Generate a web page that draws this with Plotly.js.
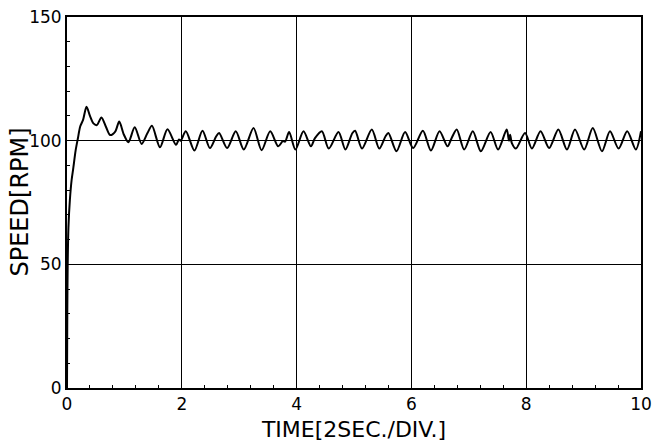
<!DOCTYPE html>
<html>
<head>
<meta charset="utf-8">
<script src="https://cdn.plot.ly/plotly-3.0.1.min.js"></script>
<style>html,body{margin:0;padding:0;background:#fff;}#chart{width:653px;height:447px;}</style>
</head>
<body>
<div id="chart"></div>
<script>
// time [2 sec/div units]
const timeVals = [0, 0.005, 0.012, 0.025, 0.05, 0.08, 0.11, 0.15, 0.19, 0.23,
  0.28, 0.34, 0.40, 0.46, 0.52, 0.60, 0.68, 0.75, 0.84, 0.91,
  0.99, 1.07, 1.18, 1.30, 1.40, 1.48, 1.62, 1.75, 1.90, 1.95,
  1.98, 2.07, 2.22, 2.36, 2.49, 2.60, 2.65, 2.79, 2.94, 3.08,
  3.25, 3.39, 3.54, 3.68, 3.76, 3.80, 3.87, 3.98, 4.12, 4.25,
  4.32, 4.44, 4.56, 4.73, 4.85, 4.97, 5.02, 5.14, 5.31, 5.44,
  5.55, 5.60, 5.74, 5.89, 6.03, 6.20, 6.34, 6.49, 6.63, 6.70,
  6.79, 6.92, 7.07, 7.21, 7.38, 7.51, 7.66, 7.70, 7.72, 7.75,
  7.82, 7.98, 8.10, 8.25, 8.40, 8.56, 8.71, 8.85, 9.01, 9.16,
  9.32, 9.46, 9.61, 9.76, 9.91, 10.0];
// speed [RPM]
const speedVals = [0, 30, 50, 65, 76, 84, 89, 96, 101, 105.7,
  108.4, 113.7, 110, 107, 106.3, 109.4, 105.5, 102.3, 103.7, 107.7,
  102.5, 99.4, 105.4, 98.7, 103, 106, 97.3, 104.6, 98.3, 100.5,
  100, 103.8, 96, 104, 97, 101.8, 103.1, 97, 103.8, 96.4,
  105.1, 96.1, 103.8, 97.7, 99.8, 99.6, 103.5, 96.4, 103.8, 97.7,
  101, 103.8, 96.8, 103.5, 96.4, 103, 104, 96.8, 104.5, 96.8,
  101.8, 103.1, 95.7, 103.5, 97, 104, 96, 103.8, 97.7, 101,
  104.5, 96.4, 103.8, 95.7, 103.5, 96.4, 104.5, 100, 102.4, 99,
  96.8, 103.1, 96.8, 103.8, 97, 104.5, 96.4, 104.5, 96.4, 105.1,
  95.7, 103.8, 96.8, 103.8, 96.4, 103.8];

const xTitle = 'TIME[2SEC./DIV.]';
const yTitle = 'SPEED[RPM]';

const trace = {
  x: timeVals, y: speedVals, type: 'scatter', mode: 'lines',
  line: {color: '#000', width: 2, shape: 'spline', smoothing: 0.8},
  hoverinfo: 'skip', showlegend: false
};

const font = 'DejaVu Sans, Liberation Sans, Arial, sans-serif';
const layout = {
  width: 653, height: 447,
  margin: {l: 67, r: 12, t: 17, b: 59},
  paper_bgcolor: '#fff', plot_bgcolor: '#fff',
  font: {family: font, color: '#000', size: 17},
  xaxis: {
    range: [0, 10], dtick: 2, tick0: 0,
    showgrid: true, gridcolor: '#000', gridwidth: 1, zeroline: false,
    showline: true, linecolor: '#000', linewidth: 2, mirror: true,
    ticks: '', ticklen: 0,
    minor: {dtick: 0.4, ticks: 'inside', ticklen: 3, tickcolor: '#000', tickwidth: 1, showgrid: false},
    tickfont: {size: 17, family: font, color: '#000'},
    title: {text: xTitle, font: {size: 22, family: font, color: '#000'}, standoff: 8},
    automargin: false,
    fixedrange: true
  },
  yaxis: {
    range: [0, 150], dtick: 50, tick0: 0,
    showgrid: true, gridcolor: '#000', gridwidth: 1, zeroline: false,
    showline: true, linecolor: '#000', linewidth: 2, mirror: true,
    ticks: '', ticklen: 0,
    minor: {dtick: 10, ticks: 'inside', ticklen: 3, tickcolor: '#000', tickwidth: 1, showgrid: false},
    tickfont: {size: 17, family: font, color: '#000'},
    automargin: false,
    fixedrange: true
  },
  annotations: [{
    text: yTitle, textangle: -90, showarrow: false,
    xref: 'paper', yref: 'paper', x: 0, y: 0.5,
    xanchor: 'center', yanchor: 'middle', xshift: -48,
    font: {size: 24, family: font, color: '#000'}
  }]
};

Plotly.newPlot('chart', [trace], layout, {staticPlot: true, displayModeBar: false});
</script>
</body>
</html>
